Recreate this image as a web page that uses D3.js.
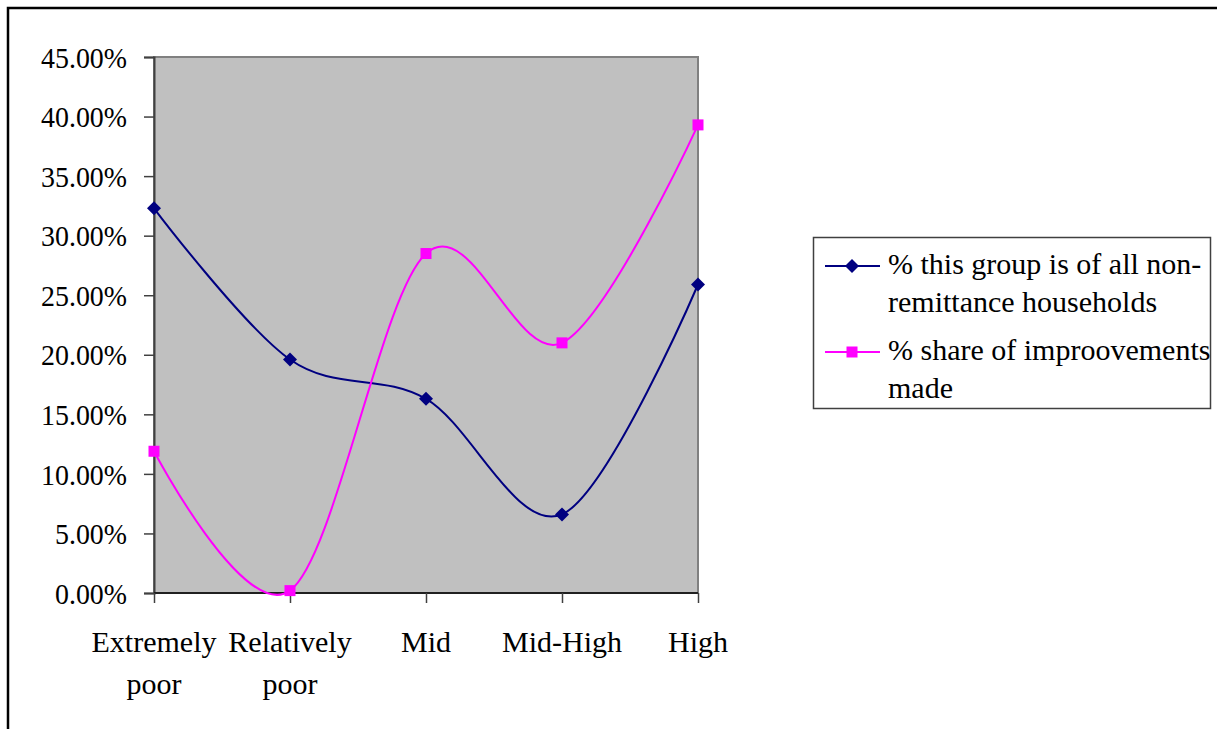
<!DOCTYPE html>
<html>
<head>
<meta charset="utf-8">
<script src="https://cdn.jsdelivr.net/npm/d3@7"></script>
<style>
  html, body { margin: 0; padding: 0; background: #fff; }
  svg { display: block; }
  svg text { font-family: "Liberation Serif", "Tinos", "Times New Roman", "DejaVu Serif", serif !important; fill: #000; }
</style>
</head>
<body>
<svg id="chart" width="1217" height="729"></svg>
<script>
// Income groups along the x axis (two-line labels)
const categories = ["Extremely poor", "Relatively poor", "Mid", "Mid-High", "High"];
const categoryLines = [["Extremely", "poor"], ["Relatively", "poor"], ["Mid"], ["Mid-High"], ["High"]];

// Share of all non-remittance households per group (%)
const householdShare = [32.3, 19.6, 16.3, 6.6, 25.9];
// Share of improvements made per group (%)
const improvementShare = [11.9, 0.2, 28.5, 21.0, 39.3];

const yTicks = [0, 5, 10, 15, 20, 25, 30, 35, 40, 45];
const seriesNames = ["% this group is of all non-remittance households", "% share of improovements made"];
const legendLines = [["% this group is of all non-", "remittance households"], ["% share of improovements", "made"]];

const svg = d3.select("#chart");
const fontSize = 30;
const serif = '"Liberation Serif", "Tinos", "Times New Roman", "DejaVu Serif", serif';

// Chart frame
svg.append("rect")
  .attr("x", 8).attr("y", 8).attr("width", 1230).attr("height", 740)
  .attr("fill", "#fff").attr("stroke", "#000").attr("stroke-width", 2.5);

const plot = { left: 154, right: 698, top: 57, bottom: 593 };

const x = d3.scalePoint().domain(categories).range([plot.left, plot.right]);
const y = d3.scaleLinear().domain([0, 45]).range([plot.bottom, plot.top]);

// Plot area
svg.append("rect")
  .attr("x", plot.left).attr("y", plot.top)
  .attr("width", plot.right - plot.left).attr("height", plot.bottom - plot.top)
  .attr("fill", "#c0c0c0").attr("stroke", "#808080").attr("stroke-width", 2);

// Y axis
const yAxis = svg.append("g")
  .attr("transform", `translate(${plot.left},0)`)
  .call(d3.axisLeft(y).tickValues(yTicks).tickSize(10).tickPadding(17)
    .tickFormat(d => d.toFixed(2) + "%"));
yAxis.attr("font-family", serif).attr("font-size", fontSize);
yAxis.select(".domain").attr("stroke", "#404040").attr("stroke-width", 2);
yAxis.selectAll(".tick line").attr("stroke", "#404040").attr("stroke-width", 1.5);
yAxis.selectAll(".tick text")
  .style("font-family", serif).style("font-size", fontSize + "px")
  .attr("fill", "#000").attr("dy", "0.34em")
  .attr("transform", "scale(0.93,1)").attr("x", -27 / 0.93);

// X axis
const xAxis = svg.append("g")
  .attr("transform", `translate(0,${plot.bottom})`)
  .call(d3.axisBottom(x).tickSize(10).tickFormat(""));
xAxis.select(".domain").attr("stroke", "#202020").attr("stroke-width", 2)
  .attr("d", `M${plot.left},0H${plot.right}`);
xAxis.selectAll(".tick line").attr("stroke", "#404040").attr("stroke-width", 1.5);

// Multi-line category labels
categories.forEach((c, i) => {
  const t = svg.append("text")
    .attr("x", x(c)).attr("y", 652)
    .attr("text-anchor", "middle")
    .style("font-family", serif).style("font-size", fontSize + "px");
  categoryLines[i].forEach((ln, j) => {
    t.append("tspan").attr("x", x(c)).attr("dy", j === 0 ? 0 : 42).text(ln);
  });
});

// Smoothed lines
const line = d3.line()
  .x((d, i) => x(categories[i]))
  .y(d => y(d))
  .curve(d3.curveCardinal.tension(0));

const navy = "#000080", magenta = "#ff00ff";

svg.append("path").datum(householdShare)
  .attr("d", line).attr("fill", "none").attr("stroke", navy).attr("stroke-width", 2);
svg.append("path").datum(improvementShare)
  .attr("d", line).attr("fill", "none").attr("stroke", magenta).attr("stroke-width", 2);

function drawDiamond(g, cx, cy) {
  g.append("path")
    .attr("d", "M0,-7L7,0L0,7L-7,0Z")
    .attr("transform", `translate(${cx},${cy})`)
    .attr("fill", navy);
}
function drawSquare(g, cx, cy) {
  g.append("rect")
    .attr("x", cx - 5.5).attr("y", cy - 5.5).attr("width", 11).attr("height", 11)
    .attr("fill", magenta);
}

const markers = svg.append("g");
householdShare.forEach((v, i) => drawDiamond(markers, x(categories[i]), y(v)));
improvementShare.forEach((v, i) => drawSquare(markers, x(categories[i]), y(v)));

// Legend
const legend = svg.append("g");
legend.append("rect")
  .attr("x", 813.5).attr("y", 237.5).attr("width", 397).attr("height", 171)
  .attr("fill", "#fff").attr("stroke", "#404040").attr("stroke-width", 1.5);

const legendRows = [
  { color: navy, marker: drawDiamond, y: 266 },
  { color: magenta, marker: drawSquare, y: 352 }
];
legendRows.forEach((r, i) => {
  legend.append("line")
    .attr("x1", 825).attr("x2", 880).attr("y1", r.y).attr("y2", r.y)
    .attr("stroke", r.color).attr("stroke-width", 2);
  r.marker(legend, 852, r.y);
  const t = legend.append("text")
    .attr("x", 888).attr("y", r.y + 8)
    .style("font-family", serif).style("font-size", fontSize + "px");
  legendLines[i].forEach((ln, j) => {
    t.append("tspan").attr("x", 888).attr("dy", j === 0 ? 0 : 38).text(ln);
  });
});
</script>
</body>
</html>
